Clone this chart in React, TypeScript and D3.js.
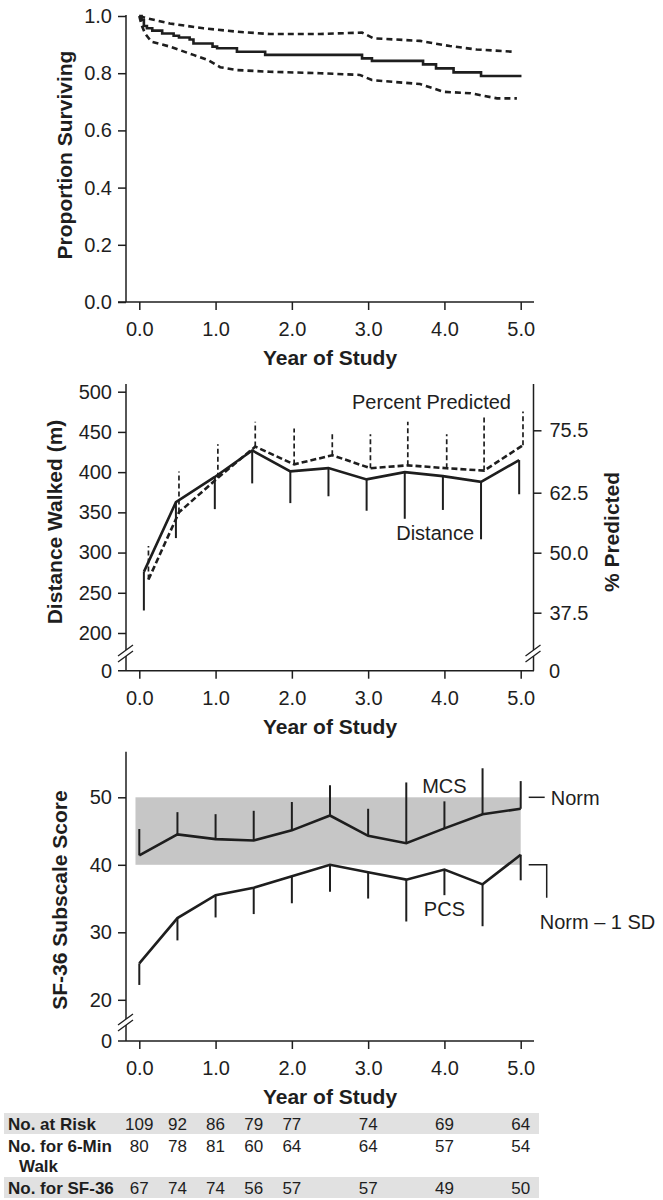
import React, { useEffect, useRef } from "react";
import * as d3 from "d3";

// Kaplan-Meier survival (top panel)
const survTimes = [0, 0.03, 0.06, 0.1, 0.17, 0.3, 0.45, 0.52, 0.66, 0.71, 0.96, 1.02, 1.28, 1.65, 2.92, 3.05, 3.72, 3.89, 4.12, 4.48, 5.01];
const survival = [1.0, 0.986, 0.965, 0.957, 0.949, 0.939, 0.931, 0.925, 0.918, 0.904, 0.893, 0.887, 0.875, 0.864, 0.852, 0.843, 0.831, 0.817, 0.803, 0.79, 0.79];
const upperTimes = [0, 0.1, 0.4, 0.84, 1.28, 1.71, 2.37, 2.92, 3.07, 3.68, 4.07, 4.42, 4.9];
const upperCI = [1.0, 0.992, 0.974, 0.957, 0.945, 0.937, 0.937, 0.942, 0.922, 0.913, 0.895, 0.883, 0.875];
const lowerTimes = [0, 0.03, 0.075, 0.16, 0.4, 0.71, 0.9, 1.06, 1.28, 1.71, 2.37, 2.89, 3.05, 3.68, 3.99, 4.34, 4.69, 4.95];
const lowerCI = [1.0, 0.969, 0.939, 0.91, 0.893, 0.864, 0.846, 0.821, 0.811, 0.805, 0.8, 0.794, 0.776, 0.762, 0.735, 0.73, 0.712, 0.712];

// 6-minute walk (middle panel)
const distTimes = [0.06, 0.48, 0.99, 1.48, 1.98, 2.48, 2.98, 3.48, 3.98, 4.48, 4.98];
const distMean = [276, 362.6, 394, 427, 401, 405, 391, 400, 395, 388, 415];
const distLow = [228, 318, 354, 386, 361.5, 370, 352, 342, 353, 316.5, 372.5];
const pctTimes = [0.12, 0.52, 1.03, 1.52, 2.03, 2.53, 3.03, 3.52, 4.03, 4.52, 5.03];
const pctMean = [44.4, 58.4, 65.6, 72.1, 68.4, 70.3, 67.6, 68.2, 67.6, 67.1, 72.4];
const pctHigh = [51.4, 66.9, 72.6, 77.3, 75.9, 75.3, 74.7, 77.3, 74.7, 78.3, 79.4];

// SF-36 (bottom panel)
const sfTimes = [0, 0.5, 1, 1.5, 2, 2.5, 3, 3.5, 4, 4.5, 5];
const mcsMean = [41.4, 44.5, 43.8, 43.6, 45.1, 47.3, 44.3, 43.2, 45.4, 47.5, 48.3];
const mcsHigh = [45.3, 47.8, 47.5, 48.0, 49.3, 51.8, 48.3, 52.2, 49.4, 54.3, 52.4];
const pcsMean = [25.4, 32.1, 35.5, 36.6, 38.3, 40.0, 38.9, 37.8, 39.3, 37.1, 41.5];
const pcsLow = [22.2, 28.8, 32.2, 32.7, 34.3, 36.0, 35.0, 31.6, 35.5, 30.9, 37.7];
const normHigh = 50;
const normLow = 40;

// ticks
const yearTicks = [0, 1, 2, 3, 4, 5];
const survTicks = [0, 0.2, 0.4, 0.6, 0.8, 1.0];
const distTicks = [200, 250, 300, 350, 400, 450, 500];
const pctTicks = [37.5, 50.0, 62.5, 75.5];
const sfTicks = [20, 30, 40, 50];

// table
const tableYears = [0, 0.5, 1, 1.5, 2, 3, 4, 5];
const atRisk = [109, 92, 86, 79, 77, 74, 69, 64];
const walkN = [80, 78, 81, 60, 64, 64, 57, 54];
const sf36N = [67, 74, 74, 56, 57, 57, 49, 50];

const FONT = "'Liberation Sans', Arial, Helvetica, sans-serif";
const INK = "#1e1e1e";

const App = () => {
  const svgRef = useRef<SVGSVGElement>(null);

  useEffect(() => {
    const svg = d3.select(svgRef.current);
    svg.selectAll("*").remove();
    svg.attr("width", 663).attr("height", 1200).style("font-family", FONT);

    const x = d3.scaleLinear().domain([0, 5]).range([139.3, 520.7]);
    const axisLeftX = 126;
    const axisRightX = 533.5;

    const vline = (x0: number, y1: number, y2: number, w = 1.5) =>
      svg.append("line").attr("x1", x0).attr("x2", x0).attr("y1", y1).attr("y2", y2)
        .attr("stroke", INK).attr("stroke-width", w);

    const styleAxis = (g: any, size = 20) => {
      g.select(".domain").remove();
      g.selectAll("line").attr("stroke", INK).attr("stroke-width", 1.5);
      g.selectAll("text").attr("fill", INK).style("font-size", `${size}px`).style("font-family", FONT);
    };

    const xAxis = (baseY: number) => {
      const g = svg.append("g").attr("transform", `translate(0,${baseY})`)
        .call(d3.axisBottom(x).tickValues(yearTicks).tickFormat(d3.format(".1f")).tickSize(8).tickPadding(12));
      styleAxis(g);
      svg.append("line").attr("x1", 118).attr("x2", 534).attr("y1", baseY).attr("y2", baseY)
        .attr("stroke", INK).attr("stroke-width", 1.5);
      svg.append("text").attr("x", (x(0) + x(5)) / 2).attr("y", baseY + 63)
        .attr("text-anchor", "middle").attr("font-weight", "bold").attr("font-size", 21)
        .attr("fill", INK).text("Year of Study");
    };

    const yTitle = (label: string, bx: number, cy: number) =>
      svg.append("text").attr("transform", `translate(${bx},${cy}) rotate(-90)`)
        .attr("text-anchor", "middle").attr("font-weight", "bold").attr("font-size", 21)
        .attr("fill", INK).text(label);

    const axisBreak = (cx: number, cy: number) => {
      [0, 6].forEach(off => {
        svg.append("line").attr("x1", cx - 8).attr("y1", cy + 4 + off).attr("x2", cx + 7).attr("y2", cy - 7 + off)
          .attr("stroke", INK).attr("stroke-width", 1.3);
      });
    };

    const zeroLabel = (xp: number, yp: number, anchor: string) =>
      svg.append("text").attr("x", xp).attr("y", yp).attr("dy", "0.35em").attr("text-anchor", anchor)
        .attr("font-size", 20).attr("fill", INK).text("0");

    // ---------- Top panel: survival ----------
    const yS = d3.scaleLinear().domain([0, 1]).range([302, 16]);
    const ga = svg.append("g").attr("transform", `translate(${axisLeftX},0)`)
      .call(d3.axisLeft(yS).tickValues(survTicks).tickFormat(d3.format(".1f")).tickSize(8).tickPadding(6));
    styleAxis(ga);
    vline(axisLeftX, 15, 302);
    xAxis(302);
    yTitle("Proportion Surviving", 72, 155);

    const km = d3.line<number>().x((d, i) => x(survTimes[i])).y(d => yS(d)).curve(d3.curveStepAfter);
    svg.append("path").attr("d", km(survival)).attr("fill", "none").attr("stroke", INK).attr("stroke-width", 2.6);
    const upLine = d3.line<number>().x((d, i) => x(upperTimes[i])).y(d => yS(d));
    const loLine = d3.line<number>().x((d, i) => x(lowerTimes[i])).y(d => yS(d));
    [upLine(upperCI), loLine(lowerCI)].forEach(p =>
      svg.append("path").attr("d", p).attr("fill", "none").attr("stroke", INK)
        .attr("stroke-width", 2.6).attr("stroke-dasharray", "6,4"));

    // ---------- Middle panel: 6-min walk ----------
    const yD = d3.scaleLinear().domain([200, 500]).range([633, 391.7]);
    const yP = d3.scaleLinear().domain([50, 75.5]).range([552.7, 430.3]);
    const base2 = 670.7;
    const gl = svg.append("g").attr("transform", `translate(${axisLeftX},0)`)
      .call(d3.axisLeft(yD).tickValues(distTicks).tickSize(8).tickPadding(6));
    styleAxis(gl);
    const gr = svg.append("g").attr("transform", `translate(${axisRightX},0)`)
      .call(d3.axisRight(yP).tickValues(pctTicks).tickFormat(d3.format(".1f")).tickSize(8).tickPadding(8));
    styleAxis(gr);
    vline(axisLeftX, 384, 650);
    vline(axisLeftX, 656, base2);
    vline(axisRightX, 384, 650);
    vline(axisRightX, 656, base2);
    axisBreak(axisLeftX, 652);
    axisBreak(axisRightX, 652);
    zeroLabel(112, base2, "end");
    zeroLabel(549, base2, "start");
    xAxis(base2);
    yTitle("Distance Walked (m)", 62, 522);
    yTitle("% Predicted", 619, 532);

    // distance: solid, bars downward
    distTimes.forEach((t, i) => {
      svg.append("line").attr("x1", x(t)).attr("x2", x(t)).attr("y1", yD(distMean[i])).attr("y2", yD(distLow[i]))
        .attr("stroke", INK).attr("stroke-width", 2);
    });
    const dLine = d3.line<number>().x((d, i) => x(distTimes[i])).y(d => yD(d));
    svg.append("path").attr("d", dLine(distMean)).attr("fill", "none").attr("stroke", INK).attr("stroke-width", 2.6);

    // percent predicted: dashed, bars upward
    pctTimes.forEach((t, i) => {
      svg.append("line").attr("x1", x(t)).attr("x2", x(t)).attr("y1", yP(pctMean[i])).attr("y2", yP(pctHigh[i]))
        .attr("stroke", INK).attr("stroke-width", 1.7).attr("stroke-dasharray", "5,3");
    });
    const pLine = d3.line<number>().x((d, i) => x(pctTimes[i])).y(d => yP(d));
    svg.append("path").attr("d", pLine(pctMean)).attr("fill", "none").attr("stroke", INK)
      .attr("stroke-width", 2.6).attr("stroke-dasharray", "6,3");

    svg.append("text").attr("x", 511).attr("y", 409).attr("text-anchor", "end")
      .attr("font-size", 20).attr("fill", INK).text("Percent Predicted");
    svg.append("text").attr("x", 474).attr("y", 540).attr("text-anchor", "end")
      .attr("font-size", 20).attr("fill", INK).text("Distance");

    // ---------- Bottom panel: SF-36 ----------
    const yF = d3.scaleLinear().domain([20, 50]).range([999.8, 797.3]);
    const base3 = 1041;
    svg.append("rect").attr("x", x(-0.05)).attr("y", yF(normHigh))
      .attr("width", x(5) - x(-0.05)).attr("height", yF(normLow) - yF(normHigh)).attr("fill", "#c6c6c6");
    const gb = svg.append("g").attr("transform", `translate(${axisLeftX},0)`)
      .call(d3.axisLeft(yF).tickValues(sfTicks).tickSize(8).tickPadding(6));
    styleAxis(gb);
    vline(axisLeftX, 751.7, 1019);
    vline(axisLeftX, 1025, base3);
    axisBreak(axisLeftX, 1021);
    zeroLabel(112, base3, "end");
    xAxis(base3);
    yTitle("SF-36 Subscale Score", 67, 900);

    sfTimes.forEach((t, i) => {
      svg.append("line").attr("x1", x(t)).attr("x2", x(t)).attr("y1", yF(mcsMean[i])).attr("y2", yF(mcsHigh[i]))
        .attr("stroke", INK).attr("stroke-width", 2);
      svg.append("line").attr("x1", x(t)).attr("x2", x(t)).attr("y1", yF(pcsMean[i])).attr("y2", yF(pcsLow[i]))
        .attr("stroke", INK).attr("stroke-width", 2);
    });
    const sLine = d3.line<number>().x((d, i) => x(sfTimes[i])).y(d => yF(d));
    [sLine(mcsMean), sLine(pcsMean)].forEach(p =>
      svg.append("path").attr("d", p).attr("fill", "none").attr("stroke", INK).attr("stroke-width", 2.6));

    svg.append("text").attr("x", x(4)).attr("y", 793).attr("text-anchor", "middle")
      .attr("font-size", 20).attr("fill", INK).text("MCS");
    svg.append("text").attr("x", x(4)).attr("y", 916).attr("text-anchor", "middle")
      .attr("font-size", 20).attr("fill", INK).text("PCS");

    // norm annotations
    svg.append("line").attr("x1", x(5) + 8).attr("x2", x(5) + 24).attr("y1", yF(normHigh)).attr("y2", yF(normHigh))
      .attr("stroke", INK).attr("stroke-width", 1.5);
    svg.append("text").attr("x", x(5) + 30).attr("y", yF(normHigh)).attr("dy", "0.36em")
      .attr("font-size", 20).attr("fill", INK).text("Norm");
    svg.append("path")
      .attr("d", `M${x(5) + 8},${yF(normLow)} H${x(5) + 26} V${yF(normLow) + 33}`)
      .attr("fill", "none").attr("stroke", INK).attr("stroke-width", 1.5);
    svg.append("text").attr("x", x(5) + 19).attr("y", 929)
      .attr("font-size", 20).attr("fill", INK).text("Norm – 1 SD");

    // ---------- Table ----------
    const rows = [
      { label: ["No. at Risk"], vals: atRisk, y: 1130, band: true },
      { label: ["No. for 6-Min", "Walk"], vals: walkN, y: 1152, band: false },
      { label: ["No. for SF-36"], vals: sf36N, y: 1194, band: true },
    ];
    rows.forEach(r => {
      if (r.band) {
        svg.append("rect").attr("x", 4).attr("y", r.y - 17).attr("width", 535).attr("height", 21).attr("fill", "#e1e1e1");
      }
      r.label.forEach((l, k) => {
        svg.append("text").attr("x", k === 0 ? 8 : 19).attr("y", r.y + k * 20)
          .attr("font-weight", "bold").attr("font-size", 17).attr("fill", INK).text(l);
      });
      r.vals.forEach((v, i) => {
        svg.append("text").attr("x", x(tableYears[i])).attr("y", r.y).attr("text-anchor", "middle")
          .attr("font-size", 17).attr("fill", INK).text(v);
      });
    });
  }, []);

  return (
    <svg ref={svgRef} style={{ position: "absolute", left: 0, top: 0, display: "block", background: "#fff" }}></svg>
  );
};

export default App;
